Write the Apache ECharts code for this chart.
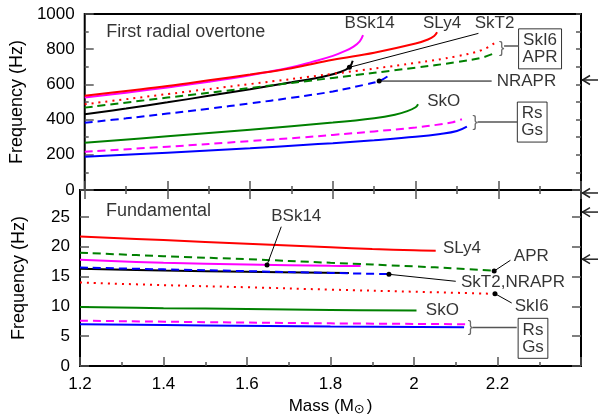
<!DOCTYPE html>
<html>
<head>
<meta charset="utf-8">
<script src="https://cdn.jsdelivr.net/npm/echarts@6/dist/echarts.min.js"></script>
<style>
html, body { margin: 0; padding: 0; background: #fff; }
#chart { width: 598px; height: 419px; }
</style>
</head>
<body>
<div id="chart"></div>
<script>
// first radial overtone, [mass (Msun), frequency (Hz)]
const ovSLy4  = [[1.2,535],[1.3,563],[1.4,591],[1.5,623],[1.6,656],[1.7,692],[1.8,740],[1.9,780],[2.0,832],[2.03,855],[2.045,875],[2.052,896]];
const ovBSk14 = [[1.2,525],[1.3,553],[1.4,583],[1.5,615],[1.6,652],[1.7,697],[1.75,728],[1.8,762],[1.83,790],[1.85,815],[1.865,845],[1.873,880]];
const ovSkI6  = [[1.2,487],[1.4,545],[1.6,602],[1.8,660],[2.0,722],[2.1,760],[2.16,795],[2.19,833]];
const ovAPR   = [[1.2,468],[1.4,525],[1.6,580],[1.8,637],[2.0,695],[2.1,727],[2.16,752],[2.19,777]];
const ovSkT2  = [[1.2,430],[1.3,463],[1.4,498],[1.5,535],[1.6,573],[1.7,612],[1.776,644],[1.82,672],[1.84,697],[1.848,735]];
const ovNRAPR = [[1.2,382],[1.3,407],[1.4,434],[1.5,462],[1.6,492],[1.7,524],[1.8,560],[1.88,600],[1.912,619],[1.935,650]];
const ovSkO   = [[1.2,269],[1.4,305],[1.6,343],[1.8,383],[1.9,408],[1.95,428],[1.98,448],[2.0,470],[2.006,487]];
const ovRs    = [[1.2,218],[1.4,246],[1.6,278],[1.728,299],[1.8,313],[1.9,333],[2.0,355],[2.05,370],[2.09,385],[2.112,402]];
const ovGs    = [[1.2,189],[1.4,212],[1.6,237],[1.728,256],[1.8,266],[1.9,283],[2.0,302],[2.06,318],[2.1,335],[2.124,360]];

// fundamental
const fSLy4  = [[1.2,21.7],[1.4,21.1],[1.6,20.5],[1.8,19.9],[1.9,19.6],[2.0,19.4],[2.052,19.3]];
const fAPR   = [[1.2,19.0],[1.4,18.4],[1.6,17.9],[1.8,17.3],[2.0,16.7],[2.1,16.35],[2.19,16.0]];
const fBSk14 = [[1.2,17.8],[1.4,17.3],[1.6,17.0],[1.8,16.8],[1.872,16.75]];
const fNRAPR = [[1.2,16.5],[1.4,16.2],[1.6,15.9],[1.8,15.6],[1.94,15.4]];
const fSkT2  = [[1.2,16.3],[1.4,16.0],[1.6,15.8],[1.844,15.6]];
const fSkI6  = [[1.2,14.0],[1.4,13.55],[1.6,13.2],[1.8,12.8],[2.0,12.45],[2.19,12.1]];
const fSkO   = [[1.2,9.9],[1.4,9.7],[1.6,9.55],[1.8,9.4],[2.006,9.3]];
const fRs    = [[1.2,7.6],[1.5,7.35],[1.8,7.15],[2.124,7.0]];
const fGs    = [[1.2,7.0],[1.5,6.8],[1.8,6.6],[2.12,6.5]];

// observed QPOs (arrows on the right)
const qpoTop = [625];
const qpoBottom = [29, 25.8, 17.9];

// annotations
const topNotes = [
  { name: 'BSk14', value: [1.889, 945] },
  { name: 'SLy4', value: [2.064, 945] },
  { name: 'SkT2', value: [2.191, 945] },
  { name: 'NRAPR', value: [2.268, 615] },
  { name: 'SkO', value: [2.068, 502] }
];
const topBoxes = [
  { name: 'SkI6\nAPR', value: [2.301, 802] },
  { name: 'Rs\nGs', value: [2.282, 386] }
];
const topBraces = [[2.208, 805], [2.144, 383]];
const topLeaders = [ [[1.84,697],[2.152,890]], [[1.912,619],[2.184,619]] ];
const topBraceLines = [ [[2.214,818],[2.25,818]], [[2.15,386],[2.246,386]] ];

const botNotes = [
  { name: 'BSk14', value: [1.718, 25.1] },
  { name: 'SLy4', value: [2.115, 19.7] },
  { name: 'APR', value: [2.281, 18.4] },
  { name: 'SkT2,NRAPR', value: [2.237, 13.96] },
  { name: 'SkI6', value: [2.282, 9.94] },
  { name: 'SkO', value: [2.068, 9.27] }
];
const botBoxes = [ { name: 'Rs\nGs', value: [2.285, 4.64] } ];
const botBraces = [[2.135, 6.42]];
const botLeaders = [ [[1.648,16.93],[1.682,23.35]], [[2.192,15.92],[2.231,17.72]], [[1.94,15.37],[2.10,14.2]], [[2.194,12.12],[2.234,10.56]] ];
const botBraceLines = [ [[2.141,6.45],[2.246,6.45]] ];

const FONT = 'Liberation Sans';
const chart = echarts.init(document.getElementById('chart'));

function curve(data, color, type, xi, yi) {
  return {
    type: 'line', data: data, xAxisIndex: xi, yAxisIndex: yi,
    showSymbol: false, symbol: 'none', smooth: 0.4,
    lineStyle: { color: color, width: 2, type: type }, silent: true
  };
}
function leader(seg, xi, yi, dot) {
  return {
    type: 'line', xAxisIndex: xi, yAxisIndex: yi, silent: true,
    data: [
      { value: seg[0], symbol: dot ? 'circle' : 'none', symbolSize: 5 },
      { value: seg[1], symbol: 'none' }
    ],
    itemStyle: { color: '#000' },
    lineStyle: { color: dot ? '#000' : '#555', width: dot ? 1 : 1.5 }
  };
}
function notes(items, xi, yi, boxed) {
  return {
    type: 'scatter', xAxisIndex: xi, yAxisIndex: yi, symbolSize: 0, silent: true,
    data: items,
    label: {
      show: true, position: 'inside', formatter: '{b}', color: '#000',
      fontFamily: FONT, fontSize: 17, lineHeight: 17,
      borderColor: boxed ? '#000' : 'transparent', borderWidth: boxed ? 1 : 0,
      padding: boxed ? [3, 4] : 0
    }
  };
}
function braces(items, xi, yi) {
  return {
    type: 'scatter', xAxisIndex: xi, yAxisIndex: yi, symbolSize: 0, silent: true,
    data: items,
    label: { show: true, position: 'inside', formatter: '}', color: '#444', fontFamily: FONT, fontSize: 16 }
  };
}
function arrows(vals, xi, yi) {
  return {
    type: 'custom', xAxisIndex: xi, yAxisIndex: yi, clip: false, silent: true,
    data: vals.map(v => [2.4, v]),
    renderItem: function (params, api) {
      const p = api.coord([api.value(0), api.value(1)]);
      return {
        type: 'group',
        children: [
          { type: 'line', shape: { x1: p[0] + 1, y1: p[1], x2: p[0] + 18, y2: p[1] }, style: { stroke: '#222', lineWidth: 1.5 } },
          { type: 'polyline', shape: { points: [[p[0] + 9, p[1] - 4.5], [p[0] + 1.5, p[1]], [p[0] + 9, p[1] + 4.5]] }, style: { stroke: '#222', fill: null, lineWidth: 1.5 } }
        ]
      };
    }
  };
}

const tickStyle = { color: '#555', width: 1.5 };
function xAx(gi, pos, labels, ticksOn) {
  return {
    type: 'value', gridIndex: gi, position: pos, min: 1.2, max: 2.4, interval: 0.2,
    axisLine: { show: false }, splitLine: { show: false },
    axisTick: { show: ticksOn, inside: true, length: 9, lineStyle: tickStyle },
    minorTick: { show: ticksOn, splitNumber: 2, length: 4, lineStyle: tickStyle },
    axisLabel: {
      show: labels, margin: 10, color: '#000', fontFamily: FONT, fontSize: 17,
      formatter: v => (v > 2.3 ? '' : String(+v.toFixed(1)))
    }
  };
}

const option = {
  animation: false,
  backgroundColor: '#fff',
  grid: [
    { left: 80, top: 14, width: 501, height: 176, show: true, borderColor: '#000', borderWidth: 2 },
    { left: 80, top: 190, width: 501, height: 176, show: true, borderColor: '#000', borderWidth: 2 }
  ],
  xAxis: [
    xAx(0, 'bottom', false, true),
    xAx(0, 'top', false, true),
    Object.assign(xAx(1, 'bottom', true, true), {
      name: 'Mass (M{s|⊙})', nameLocation: 'middle', nameGap: 30,
      nameTextStyle: {
        color: '#000', fontFamily: FONT, fontSize: 17,
        rich: { s: { fontSize: 13, fontFamily: 'DejaVu Sans', padding: [7, 2, 0, 0] } }
      }
    })
  ],
  yAxis: [
    {
      type: 'value', gridIndex: 0, position: 'left', min: 0, max: 1000, interval: 200,
      axisLine: { show: false }, splitLine: { show: false },
      axisTick: { show: true, inside: true, length: 9, lineStyle: tickStyle },
      minorTick: { show: true, splitNumber: 2, length: 4, lineStyle: tickStyle },
      axisLabel: { margin: 10, color: '#000', fontFamily: FONT, fontSize: 17, formatter: v => String(v) },
      name: 'Frequency (Hz)', nameLocation: 'middle', nameGap: 52,
      nameTextStyle: { color: '#000', fontFamily: FONT, fontSize: 18 }
    },
    {
      type: 'value', gridIndex: 0, position: 'right', min: 0, max: 1000, interval: 100,
      axisLine: { show: false }, splitLine: { show: false },
      axisTick: { show: true, inside: true, length: 5, lineStyle: tickStyle },
      axisLabel: { show: false }
    },
    {
      type: 'value', gridIndex: 1, position: 'left', min: 0, max: 29.5, interval: 5,
      axisLine: { show: false }, splitLine: { show: false },
      axisTick: { show: true, inside: true, length: 9, lineStyle: tickStyle },
      axisLabel: {
        margin: 10, color: '#000', fontFamily: FONT, fontSize: 17,
        formatter: v => (v > 26 ? '' : String(v))
      },
      name: 'Frequency (Hz)', nameLocation: 'middle', nameGap: 52,
      nameTextStyle: { color: '#000', fontFamily: FONT, fontSize: 18 }
    },
    {
      type: 'value', gridIndex: 1, position: 'right', min: 0, max: 29.5, interval: 5,
      axisLine: { show: false }, splitLine: { show: false },
      axisTick: { show: true, inside: true, length: 9, lineStyle: tickStyle },
      axisLabel: { show: false }
    }
  ],
  series: [
    curve(ovGs, '#0000ff', 'solid', 0, 0),
    curve(ovRs, '#ff00ff', [8, 5], 0, 0),
    curve(ovSkO, '#008000', 'solid', 0, 0),
    curve(ovNRAPR, '#0000ff', [8, 5], 0, 0),
    curve(ovSkT2, '#000000', 'solid', 0, 0),
    curve(ovAPR, '#008000', [8, 5], 0, 0),
    curve(ovSkI6, '#ff0000', [2, 5], 0, 0),
    curve(ovBSk14, '#ff00ff', 'solid', 0, 0),
    curve(ovSLy4, '#ff0000', 'solid', 0, 0),

    curve(fGs, '#0000ff', 'solid', 2, 2),
    curve(fRs, '#ff00ff', [8, 5], 2, 2),
    curve(fSkO, '#008000', 'solid', 2, 2),
    curve(fSkI6, '#ff0000', [2, 5], 2, 2),
    curve(fSkT2, '#000000', 'solid', 2, 2),
    curve(fNRAPR, '#0000ff', [8, 5], 2, 2),
    curve(fBSk14, '#ff00ff', 'solid', 2, 2),
    curve(fAPR, '#008000', [8, 5], 2, 2),
    curve(fSLy4, '#ff0000', 'solid', 2, 2),

    ...topLeaders.map(s => leader(s, 0, 0, true)),
    ...topBraceLines.map(s => leader(s, 0, 0, false)),
    ...botLeaders.map(s => leader(s, 2, 2, true)),
    ...botBraceLines.map(s => leader(s, 2, 2, false)),

    notes(topNotes, 0, 0, false),
    notes(topBoxes, 0, 0, true),
    notes(botNotes, 2, 2, false),
    notes(botBoxes, 2, 2, true),
    braces(topBraces, 0, 0),
    braces(botBraces, 2, 2),
    {
      type: 'scatter', xAxisIndex: 0, yAxisIndex: 0, symbolSize: 0, silent: true,
      data: [{ name: 'First radial overtone', value: [1.252, 896] }],
      label: { show: true, position: 'right', distance: 0, formatter: '{b}', color: '#000', fontFamily: FONT, fontSize: 18 }
    },
    {
      type: 'scatter', xAxisIndex: 2, yAxisIndex: 2, symbolSize: 0, silent: true,
      data: [{ name: 'Fundamental', value: [1.262, 25.9] }],
      label: { show: true, position: 'right', distance: 0, formatter: '{b}', color: '#000', fontFamily: FONT, fontSize: 18 }
    },

    arrows(qpoTop, 1, 1),
    arrows(qpoBottom, 2, 3)
  ]
};
chart.setOption(option);
</script>
</body>
</html>
